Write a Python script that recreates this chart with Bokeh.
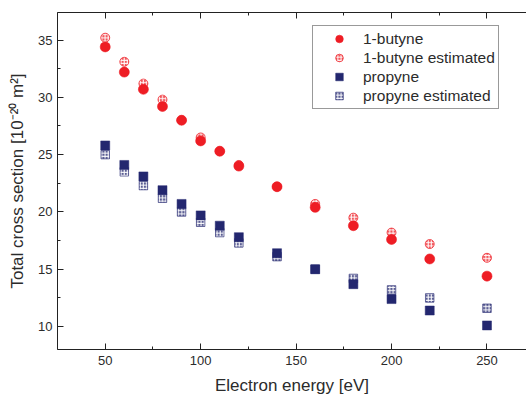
from bokeh.plotting import figure
from bokeh.models import (LinearAxis, BasicTicker, Legend, LegendItem, Range1d,
                          CustomJSTickFormatter)
from bokeh.embed import file_html
from bokeh.resources import INLINE

# Electron energy [eV]
energy = [50, 60, 70, 80, 90, 100, 110, 120, 140, 160, 180, 200, 220, 250]

# Total cross sections [1e-20 m^2]
butyne = [34.4, 32.2, 30.7, 29.2, 28.0, 26.2, 25.3, 24.0, 22.2, 20.4, 18.8, 17.6, 15.9, 14.4]
butyne_est = [35.2, 33.1, 31.2, 29.8, 28.0, 26.5, 25.3, 24.1, 22.2, 20.7, 19.5, 18.2, 17.2, 16.0]
propyne = [25.8, 24.1, 23.1, 21.9, 20.7, 19.7, 18.8, 17.8, 16.4, 15.0, 13.7, 12.4, 11.4, 10.1]
propyne_est = [25.0, 23.5, 22.3, 21.2, 20.0, 19.1, 18.2, 17.3, 16.1, 15.0, 14.2, 13.2, 12.5, 11.6]

series_labels = ["1-butyne", "1-butyne estimated", "propyne", "propyne estimated"]

RED = "#EE1D24"
NAVY = "#23276F"
FONT = "Liberation Sans"
TXT = "#2b2b2b"

p = figure(width=526, height=398, output_backend="svg", toolbar_location=None,
           x_range=Range1d(25, 270.7), y_range=Range1d(8.0, 37.4),
           min_border_left=57, min_border_right=0, min_border_top=12,
           min_border_bottom=49, background_fill_color="white",
           border_fill_color="white")
p.outline_line_color = None
p.xgrid.visible = False
p.ygrid.visible = False

p.xaxis.ticker = BasicTicker(desired_num_ticks=6, num_minor_ticks=2)
p.yaxis.ticker = BasicTicker(desired_num_ticks=6, num_minor_ticks=2)

for ax in (p.xaxis[0], p.yaxis[0]):
    ax.axis_line_color = "#222222"
    ax.major_tick_line_color = "#222222"
    ax.minor_tick_line_color = "#222222"
    ax.major_tick_in = 6
    ax.major_tick_out = 0
    ax.minor_tick_in = 3
    ax.minor_tick_out = 0
    ax.major_label_text_font = FONT
    ax.major_label_text_font_size = "13px"
    ax.major_label_text_color = TXT
    ax.axis_label_text_font = FONT
    ax.axis_label_text_font_size = "17px"
    ax.axis_label_text_font_style = "normal"
    ax.axis_label_text_color = TXT

p.xaxis.axis_label = "Electron energy [eV]"
p.xaxis.major_label_standoff = 6
p.xaxis.axis_label_standoff = 8
p.yaxis.axis_label = "Total cross section [10\u207b\u00b2\u2070 m\u00b2]"
p.yaxis.major_label_standoff = 5
p.yaxis.axis_label_standoff = 8

# top frame line with inward ticks and blank labels
top = LinearAxis(ticker=BasicTicker(desired_num_ticks=6, num_minor_ticks=2),
                 formatter=CustomJSTickFormatter(code="return ''"),
                 axis_line_color="#222222", major_tick_line_color="#222222",
                 minor_tick_line_color="#222222", major_tick_in=6, major_tick_out=0,
                 minor_tick_in=3, minor_tick_out=0, major_label_standoff=0)
p.add_layout(top, "above")

# estimated values drawn first so the measured markers sit on top
r2 = p.scatter(energy, butyne_est, marker="circle", size=9, fill_color=RED,
               fill_alpha=0.75, line_color=RED, line_alpha=0.7,
               hatch_pattern="+", hatch_color="white", hatch_scale=3.2,
               hatch_weight=1)
r4 = p.scatter(energy, propyne_est, marker="square", size=8.5, fill_color=NAVY,
               fill_alpha=0.75, line_color=NAVY, line_alpha=0.6,
               hatch_pattern="+", hatch_color="white", hatch_scale=3.2,
               hatch_weight=1)
r1 = p.scatter(energy, butyne, marker="circle", size=10, fill_color=RED,
               line_color=RED, line_alpha=0.6)
r3 = p.scatter(energy, propyne, marker="square", size=9, fill_color=NAVY,
               line_color=NAVY, line_alpha=0.5)

legend = Legend(items=[LegendItem(label=series_labels[0], renderers=[r1]),
                       LegendItem(label=series_labels[1], renderers=[r2]),
                       LegendItem(label=series_labels[2], renderers=[r3]),
                       LegendItem(label=series_labels[3], renderers=[r4])],
                location=(255, 240), orientation="vertical",
                label_text_font=FONT, label_text_font_size="15.5px",
                label_text_color=TXT, glyph_width=46, glyph_height=19,
                label_height=19, label_standoff=1, spacing=0, padding=3,
                margin=0, border_line_color="#333333", border_line_width=1,
                background_fill_color="white", background_fill_alpha=1.0)
p.add_layout(legend, "center")

open("out.html", "w").write(file_html(p, INLINE))
